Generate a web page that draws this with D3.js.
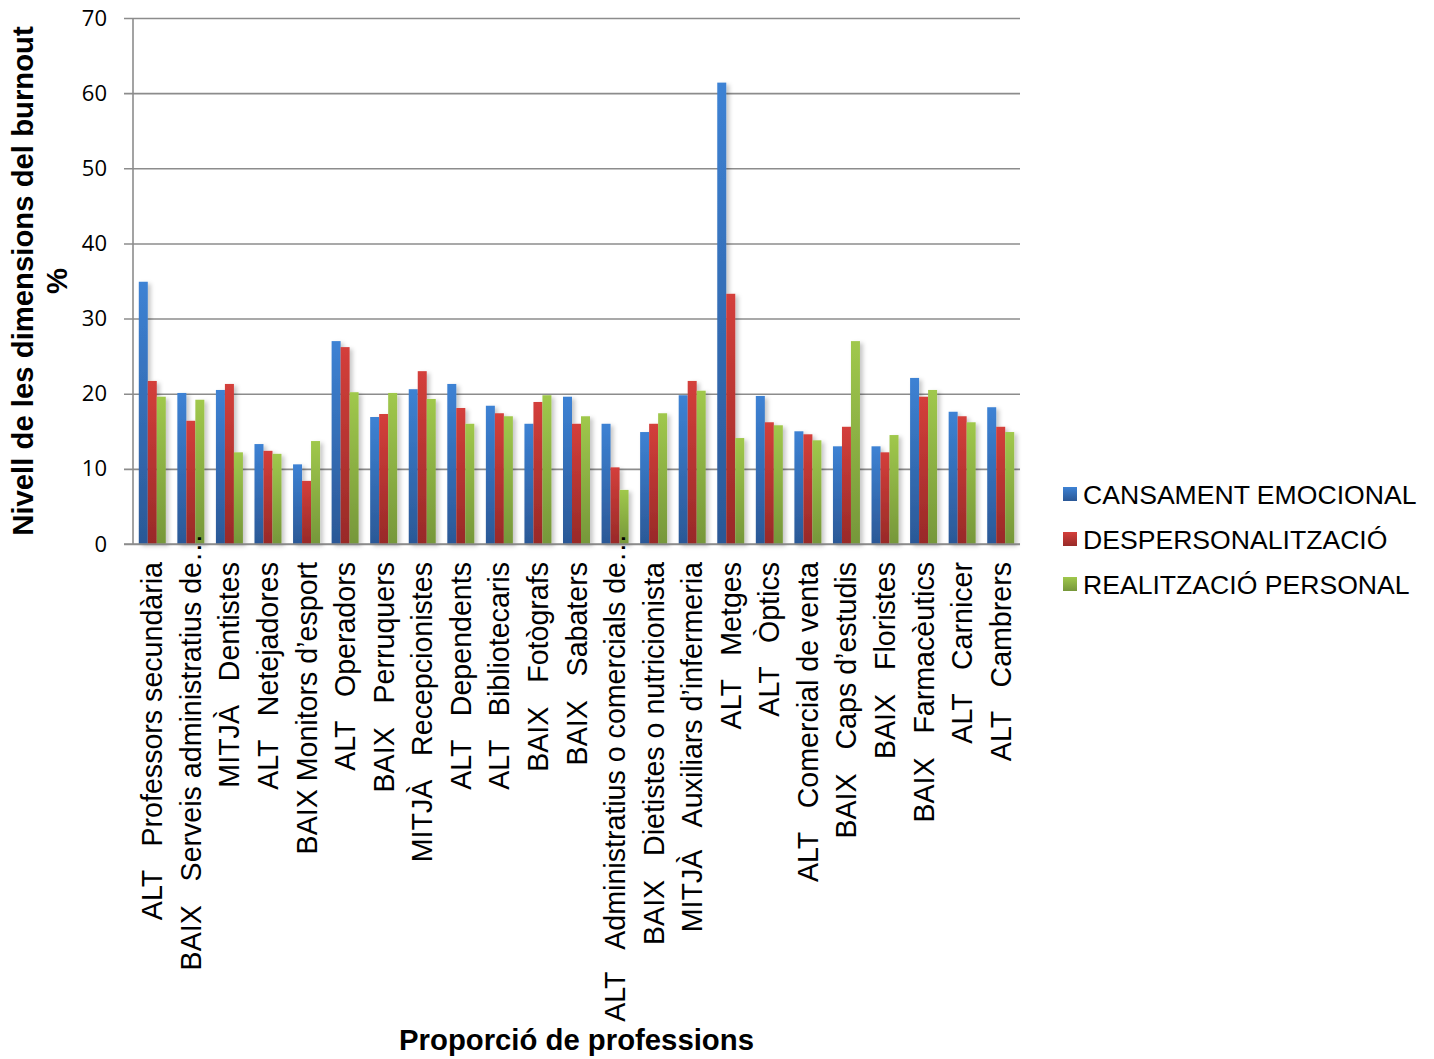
<!DOCTYPE html>
<meta charset="utf-8">
<script src="https://d3js.org/d3.v7.min.js"></script>
<style>
  body { margin: 0; background-color: white; }
  text { font-family: "Liberation Sans", Arial, sans-serif; fill: black; }
</style>
<div id="chart"></div>
<script>
  // categories (nivell + professio), as the x axis shows them
  var categories = [
    "ALT   Professors secundària",
    "BAIX   Serveis administratius de…",
    "MITJÀ   Dentistes",
    "ALT   Netejadores",
    "BAIX Monitors d’esport",
    "ALT   Operadors",
    "BAIX   Perruquers",
    "MITJÀ   Recepcionistes",
    "ALT   Dependents",
    "ALT   Bibliotecaris",
    "BAIX   Fotògrafs",
    "BAIX   Sabaters",
    "ALT   Administratius o comercials de…",
    "BAIX   Dietistes o nutricionista",
    "MITJÀ   Auxiliars d’infermeria",
    "ALT   Metges",
    "ALT   Òptics",
    "ALT   Comercial de venta",
    "BAIX   Caps d’estudis",
    "BAIX   Floristes",
    "BAIX   Farmacèutics",
    "ALT   Carnicer",
    "ALT   Cambrers"
  ];

  var seriesNames = ["CANSAMENT EMOCIONAL", "DESPERSONALITZACIÓ", "REALITZACIÓ PERSONAL"];

  var cansament = [34.9, 20.1, 20.5, 13.3, 10.6, 27.0, 16.9, 20.6, 21.3, 18.4, 16.0, 19.6,
                   16.0, 14.9, 19.8, 61.4, 19.7, 15.0, 13.0, 13.0, 22.1, 17.6, 18.2];
  var despersonalitzacio = [21.7, 16.4, 21.3, 12.4, 8.4, 26.2, 17.3, 23.0, 18.1, 17.4, 18.9, 16.0,
                   10.2, 16.0, 21.7, 33.3, 16.2, 14.6, 15.6, 12.2, 19.6, 17.0, 15.6];
  var realitzacio = [19.6, 19.2, 12.2, 12.0, 13.7, 20.2, 20.1, 19.3, 16.0, 17.0, 19.8, 17.0,
                   7.2, 17.4, 20.4, 14.1, 15.8, 13.8, 27.0, 14.5, 20.5, 16.2, 14.9];

  var yTicks = [0, 10, 20, 30, 40, 50, 60, 70];

  var seriesValues = [cansament, despersonalitzacio, realitzacio];
  // top / bottom colours of each gradient
  var colors = [["#3d82d4", "#2b5896"], ["#d43f3b", "#982a28"], ["#a0c84c", "#76973a"]];

  var width = 1434, height = 1059;
  var margin = {top: 18, left: 133, right: 1020, bottom: 544};

  var svg = d3.select("#chart")
    .append("svg")
      .attr("width", width)
      .attr("height", height);

  var defs = svg.append("defs");
  colors.forEach(function(c, i) {
    var g = defs.append("linearGradient")
      .attr("id", "grad" + i)
      .attr("x1", 0).attr("y1", 0).attr("x2", 0).attr("y2", 1);
    g.append("stop").attr("offset", "0%").attr("stop-color", c[0]);
    g.append("stop").attr("offset", "100%").attr("stop-color", c[1]);
  });
  var shadow = defs.append("filter").attr("id", "shadow")
    .attr("x", "-20%").attr("y", "-5%").attr("width", "160%").attr("height", "115%");
  shadow.append("feDropShadow")
    .attr("dx", 3).attr("dy", 2).attr("stdDeviation", 2)
    .attr("flood-color", "#000").attr("flood-opacity", 0.22);

  var x = d3.scaleBand()
    .domain(d3.range(categories.length))
    .range([margin.left, margin.right])
    .paddingInner(0.3)
    .paddingOuter(0.15);

  var xSub = d3.scaleBand()
    .domain(d3.range(seriesNames.length))
    .range([0, x.bandwidth()]);

  var y = d3.scaleLinear()
    .domain([0, 70])
    .range([margin.bottom, margin.top]);

  // gridlines + y axis
  var yAxis = svg.append("g")
    .attr("transform", "translate(" + margin.left + ",0)")
    .call(d3.axisLeft(y).tickValues(yTicks).tickSize(9).tickPadding(17)
      .tickSizeInner(-(margin.right - margin.left)).tickSizeOuter(0));
  yAxis.select(".domain").remove();
  yAxis.selectAll(".tick line")
    .attr("x1", -9)
    .attr("stroke", "#8c8c8c")
    .attr("stroke-width", 1.6);
  yAxis.selectAll(".tick text")
    .attr("x", -26)
    .style("font-family", "'Open Sans', sans-serif")
    .style("font-size", "22px")
    .attr("fill", "#000");

  svg.append("line")
    .attr("x1", margin.left).attr("x2", margin.left)
    .attr("y1", margin.top).attr("y2", margin.bottom)
    .attr("stroke", "#8c8c8c")
    .attr("stroke-width", 1.6);

  // bars
  var groups = svg.append("g")
    .selectAll("g")
    .data(categories)
    .enter()
    .append("g")
      .attr("transform", function(d, i) { return "translate(" + x(i) + ",0)"; })
      .attr("filter", "url(#shadow)");

  groups.selectAll("rect")
    .data(function(d, i) { return seriesValues.map(function(s, j) { return {s: j, v: s[i]}; }); })
    .enter()
    .append("rect")
      .attr("x", function(d) { return xSub(d.s); })
      .attr("y", function(d) { return y(d.v); })
      .attr("width", xSub.bandwidth())
      .attr("height", function(d) { return y(0) - y(d.v); })
      .attr("fill", function(d) { return "url(#grad" + d.s + ")"; });

  // bottom axis line redrawn over bars
  svg.append("line")
    .attr("x1", margin.left - 9).attr("x2", margin.right)
    .attr("y1", y(0)).attr("y2", y(0))
    .attr("stroke", "#8c8c8c")
    .attr("stroke-width", 1.6);

  // category labels (a cut label lets its "…" run past the top, like the original)
  var labels = svg.append("g")
    .selectAll("g")
    .data(categories)
    .enter()
    .append("g")
      .attr("transform", function(d, i) {
        return "translate(" + (x(i) + x.bandwidth() / 2) + ",562) rotate(-90)";
      });
  labels.append("text")
    .attr("text-anchor", "end")
    .attr("dy", "0.35em")
    .style("font-size", "28.6px")
    .style("white-space", "pre")
    .text(function(d) { return d.replace("…", ""); });
  labels.filter(function(d) { return d.indexOf("…") >= 0; })
    .append("text")
      .attr("text-anchor", "start")
      .attr("dy", "0.35em")
      .style("font-size", "28.6px")
      .text("…");

  // axis titles
  var yTitle = svg.append("text")
    .attr("transform", "translate(33," + ((margin.top + margin.bottom) / 2) + ") rotate(-90)")
    .attr("text-anchor", "middle")
    .style("font-size", "29.3px")
    .style("font-weight", "bold");
  yTitle.append("tspan").attr("x", 0).attr("y", 0).text("Nivell de les dimensions del burnout");
  yTitle.append("tspan").attr("x", 0).attr("y", 34).text("%");

  svg.append("text")
    .attr("x", (margin.left + margin.right) / 2)
    .attr("y", 1050)
    .attr("text-anchor", "middle")
    .style("font-size", "29.3px")
    .style("font-weight", "bold")
    .text("Proporció de professions");

  // legend
  var legend = svg.append("g")
    .selectAll("g")
    .data(seriesNames)
    .enter()
    .append("g")
      .attr("transform", function(d, i) { return "translate(1063," + (494 + i * 45) + ")"; });
  legend.append("rect")
    .attr("x", 0).attr("y", -7)
    .attr("width", 14).attr("height", 14)
    .attr("fill", function(d, i) { return "url(#grad" + i + ")"; });
  legend.append("text")
    .attr("x", 20)
    .attr("y", 9.5)
    .style("font-size", "26.6px")
    .text(function(d) { return d; });
</script>
</html>
